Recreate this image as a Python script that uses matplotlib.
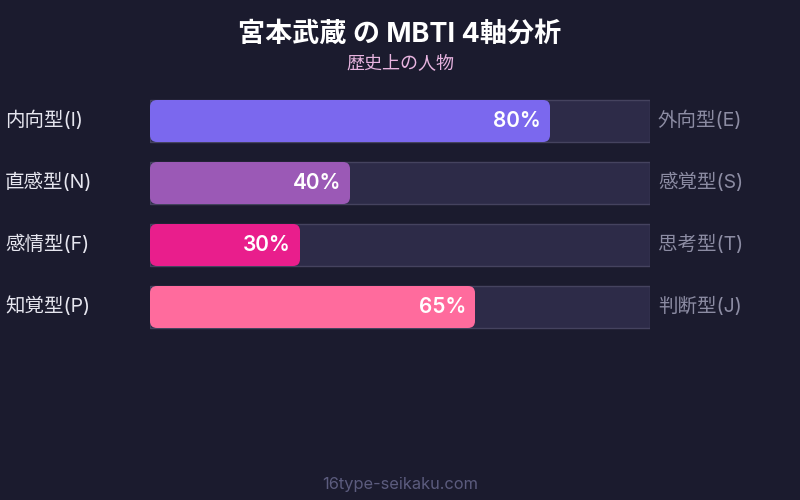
import matplotlib
matplotlib.use("Agg")
import matplotlib.pyplot as plt
from matplotlib.patches import FancyBboxPatch, Rectangle

plt.rcParams['font.family'] = ['Inter', 'Noto Sans CJK JP', 'DejaVu Sans']

title = "宮本武蔵 の MBTI 4軸分析"
subtitle = "歴史上の人物"
footer = "16type-seikaku.com"
left_labels = ["内向型(I)", "直感型(N)", "感情型(F)", "知覚型(P)"]
right_labels = ["外向型(E)", "感覚型(S)", "思考型(T)", "判断型(J)"]
values = [80, 40, 30, 65]
colors = ["#7b68ee", "#9b59b6", "#e91e8c", "#ff6b9d"]

BG = "#1b1b2e"
W, H = 800, 500
fig = plt.figure(figsize=(8, 5), dpi=100, facecolor=BG)

# axes for bars: x 150..650 px, y 90..338 px
ax = fig.add_axes([150 / W, 1 - 338 / H, 500 / W, 248 / H])
ax.set_facecolor(BG)
ax.set_xlim(0, 100)
ax.set_ylim(len(values) - 0.5, -0.5)
ax.axis('off')

px_x = 500 / 100.0
px_y = 248 / len(values)
bh = 42 / px_y
r_px = 7
rs = r_px / px_x
asp = (r_px / px_y) / rs

for i, (v, c) in enumerate(zip(values, colors)):
    ax.add_patch(Rectangle((0, i - bh / 2), 100, bh, facecolor="#2d2b48",
                           edgecolor="#45435f", linewidth=1.0, zorder=1))
    ax.add_patch(FancyBboxPatch((0, i - bh / 2), v, bh,
                                boxstyle=f"round,pad=0,rounding_size={rs}",
                                mutation_aspect=asp, facecolor=c,
                                edgecolor='none', zorder=2))
    ax.text(v - 9 / px_x, i, f"{v}%", ha='right', va='center',
            color='white', fontsize=15, fontweight='semibold', zorder=3)

# labels in figure pixel coordinates
for i, (l, r) in enumerate(zip(left_labels, right_labels)):
    ycen = 120 + 62 * i
    fig.text(5 / W, 1 - ycen / H, l, ha='left', va='center',
             color='#e6e6ef', fontsize=14)
    fig.text(658 / W, 1 - ycen / H, r, ha='left', va='center',
             color='#8c8ca3', fontsize=14)

fig.text(0.5, 1 - 35 / H, title, ha='center', va='center', color='white',
         fontsize=19.5, fontweight='bold')
fig.text(0.5, 1 - 64 / H, subtitle, ha='center', va='center',
         color='#e8b4e0', fontsize=13)
fig.text(0.5, 1 - 484 / H, footer, ha='center', va='center',
         color='#5c5c7e', fontsize=11.8)

fig.savefig("out.png", dpi=100, facecolor=BG)
